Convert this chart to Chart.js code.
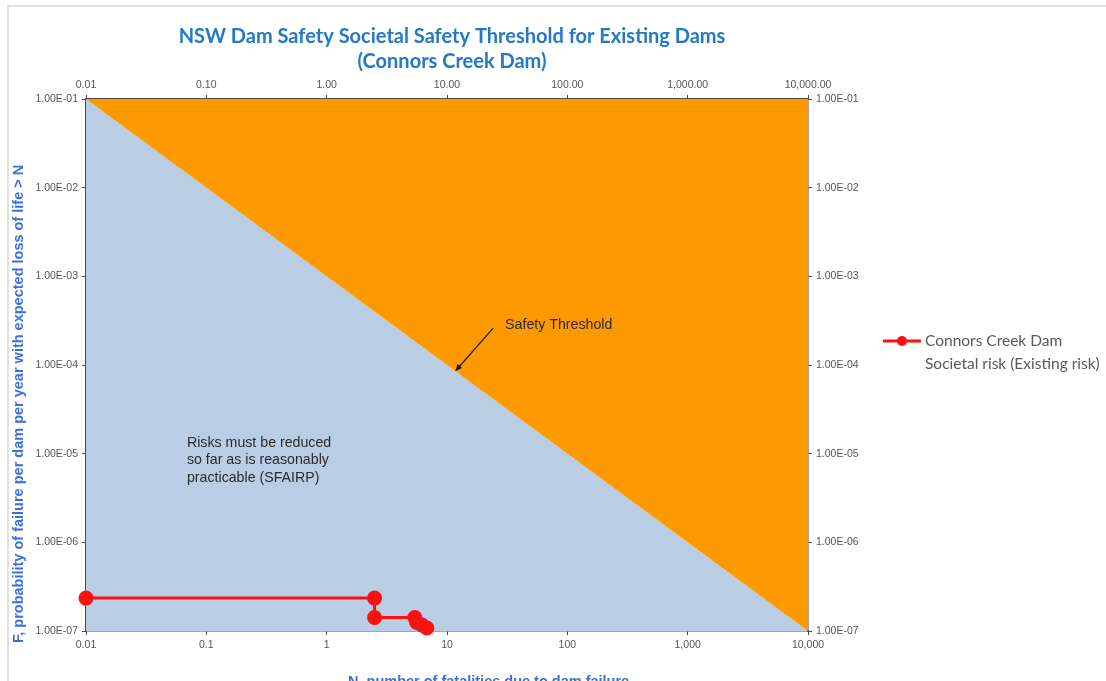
<!DOCTYPE html>
<html>
<head>
<meta charset="utf-8">
<script src="https://cdn.jsdelivr.net/npm/chart.js@4"></script>
<style>
    html, body { margin: 0; padding: 0; background: #fff; overflow: hidden; }
    #wrap { position: relative; width: 1106px; height: 681px; }
    #frame { position: absolute; left: 7px; top: 5px; right: -10px; bottom: -10px; border: 2px solid #e2e2e2; }
    canvas { position: absolute; left: 0; top: 0; }
</style>
</head>
<body>
<div id="wrap">
    <div id="frame"></div>
    <canvas id="chartFN" width="1106" height="681"></canvas>
</div>
<script>
// Data
const riskN = [0.01, 2.5, 2.5, 5.4, 5.6, 6.2, 6.8];
const riskF = [2.35e-7, 2.35e-7, 1.42e-7, 1.42e-7, 1.25e-7, 1.17e-7, 1.08e-7];

const thresholdN = [0.01, 10000];
const thresholdF = [1e-1, 1e-7];

const xTicks = [0.01, 0.1, 1, 10, 100, 1000, 10000];
const xLabelsBottom = ["0.01", "0.1", "1", "10", "100", "1,000", "10,000"];
const xLabelsTop = ["0.01", "0.10", "1.00", "10.00", "100.00", "1,000.00", "10,000.00"];

const yTicks = [1e-7, 1e-6, 1e-5, 1e-4, 1e-3, 1e-2, 1e-1];
const yLabels = ["1.00E-07", "1.00E-06", "1.00E-05", "1.00E-04", "1.00E-03", "1.00E-02", "1.00E-01"];

const titleLines = ["NSW Dam Safety Societal Safety Threshold for Existing Dams", "(Connors Creek Dam)"];
const xTitle = "N, number of fatalities due to dam failure";
const yTitle = "F, probability of failure per dam per year with expected loss of life > N";
const legendLines = ["Connors Creek Dam", "Societal risk (Existing risk)"];

// annotation anchors in data units (N, F)
const thresholdLabel = { text: "Safety Threshold", n: 30.4, f: 2.82e-4 };
const arrowTail = [24.2, 2.6e-4];
const arrowTip = [11.7, 8.5e-5];
const sfairpLines = ["Risks must be reduced", "so far as is reasonably", "practicable (SFAIRP)"];
const sfairpAnchor = [0.069, 1.32e-5];

const toXY = (xs, ys) => xs.map((v, i) => ({ x: v, y: ys[i] }));

const tickFont = { family: "Liberation Sans, Arial", size: 10.5 };
const tickColor = "#555";
const axisColor = "#4a4a4a";

function logAxis(position, ticks, labels, fitSize) {
    return {
        type: "logarithmic",
        position: position,
        min: ticks[0],
        max: ticks[ticks.length - 1],
        afterBuildTicks: scale => {
            scale.ticks = ticks.map(v => ({ value: v }));
        },
        afterFit: scale => {
            if (position === "left" || position === "right") scale.width = fitSize;
            else scale.height = fitSize;
        },
        ticks: {
            autoSkip: false,
            maxRotation: 0,
            font: tickFont,
            color: tickColor,
            padding: 4,
            callback: (value, index) => labels[index]
        },
        grid: { drawOnChartArea: false, drawTicks: true, tickLength: 4, color: axisColor },
        border: { display: true, color: axisColor, width: 1.5 }
    };
}

// Title, axis titles, legend and notes
const extrasPlugin = {
    id: "extras",
    afterDatasetsDraw(chart) {
        const ctx = chart.ctx;
        const x = chart.scales.x;
        const y = chart.scales.y;

        // notes
        ctx.save();
        ctx.fillStyle = "#2b2b2b";
        ctx.font = "14.2px 'Liberation Sans', Arial";
        ctx.textBaseline = "middle";
        ctx.textAlign = "left";
        ctx.fillText(thresholdLabel.text, x.getPixelForValue(thresholdLabel.n), y.getPixelForValue(thresholdLabel.f));

        let sx = x.getPixelForValue(sfairpAnchor[0]);
        let sy = y.getPixelForValue(sfairpAnchor[1]);
        sfairpLines.forEach((line, i) => ctx.fillText(line, sx, sy + i * 17.5));

        // arrow
        let tx = x.getPixelForValue(arrowTail[0]), ty = y.getPixelForValue(arrowTail[1]);
        let hx = x.getPixelForValue(arrowTip[0]), hy = y.getPixelForValue(arrowTip[1]);
        let ang = Math.atan2(hy - ty, hx - tx);
        ctx.strokeStyle = "#1a1a1a";
        ctx.fillStyle = "#1a1a1a";
        ctx.lineWidth = 1.2;
        ctx.beginPath();
        ctx.moveTo(tx, ty);
        ctx.lineTo(hx - 5 * Math.cos(ang), hy - 5 * Math.sin(ang));
        ctx.stroke();
        ctx.beginPath();
        ctx.moveTo(hx, hy);
        ctx.lineTo(hx - 7 * Math.cos(ang) + 3 * Math.sin(ang), hy - 7 * Math.sin(ang) - 3 * Math.cos(ang));
        ctx.lineTo(hx - 7 * Math.cos(ang) - 3 * Math.sin(ang), hy - 7 * Math.sin(ang) + 3 * Math.cos(ang));
        ctx.closePath();
        ctx.fill();
        ctx.restore();
    },
    afterDraw(chart) {
        const ctx = chart.ctx;
        ctx.save();

        // chart title
        ctx.fillStyle = "#2479c7";
        ctx.font = "bold 20px Lato, 'Open Sans'";
        ctx.textAlign = "center";
        ctx.textBaseline = "middle";
        ctx.fillText(titleLines[0], 452, 37);
        ctx.fillText(titleLines[1], 452, 62);

        // axis titles
        ctx.fillStyle = "#3b6fe0";
        ctx.font = "bold 14.5px 'Liberation Sans', Arial";
        ctx.textAlign = "left";
        ctx.textBaseline = "alphabetic";
        ctx.fillText(xTitle, 348, 686);

        ctx.translate(23, 643);
        ctx.rotate(-Math.PI / 2);
        ctx.fillText(yTitle, 0, 0);
        ctx.restore();

        // legend
        const ds = chart.data.datasets[0];
        ctx.save();
        ctx.strokeStyle = ds.borderColor;
        ctx.lineWidth = 3;
        ctx.beginPath();
        ctx.moveTo(883, 341);
        ctx.lineTo(921, 341);
        ctx.stroke();
        ctx.fillStyle = ds.pointBackgroundColor;
        ctx.beginPath();
        ctx.arc(902, 341, 5, 0, Math.PI * 2);
        ctx.fill();
        ctx.fillStyle = "#595959";
        ctx.font = "15.5px Lato";
        ctx.textBaseline = "middle";
        ctx.fillText(legendLines[0], 925, 341);
        ctx.fillText(legendLines[1], 925, 364);
        ctx.restore();
    }
};

const ctxFN = document.getElementById("chartFN").getContext("2d");

let chartFN = new Chart(ctxFN, {
    type: "line",
    data: {
        datasets: [
            {
                label: legendLines.join(" "),
                data: toXY(riskN, riskF),
                borderColor: "#ff1010",
                backgroundColor: "#ff1010",
                pointBackgroundColor: "#ff1010",
                pointBorderColor: "#ff1010",
                borderWidth: 3,
                pointRadius: 6,
                fill: false,
                clip: false
            },
            {
                label: "Above threshold",
                data: toXY(thresholdN, thresholdF),
                borderWidth: 0,
                borderColor: "rgba(0,0,0,0)",
                backgroundColor: "#ff9900",
                pointRadius: 0,
                fill: "end"
            },
            {
                label: "Below threshold",
                data: toXY(thresholdN, thresholdF),
                borderWidth: 0,
                borderColor: "rgba(0,0,0,0)",
                backgroundColor: "#b9cde4",
                pointRadius: 0,
                fill: "start"
            }
        ]
    },
    options: {
        responsive: false,
        animation: false,
        layout: { padding: 0 },
        plugins: {
            legend: { display: false },
            title: { display: false },
            tooltip: { enabled: false }
        },
        scales: {
            x: logAxis("bottom", xTicks, xLabelsBottom, 50),
            xTop: logAxis("top", xTicks, xLabelsTop, 99),
            y: logAxis("left", yTicks, yLabels, 86),
            yRight: logAxis("right", yTicks, yLabels, 298)
        }
    },
    plugins: [extrasPlugin]
});
</script>
</body>
</html>
